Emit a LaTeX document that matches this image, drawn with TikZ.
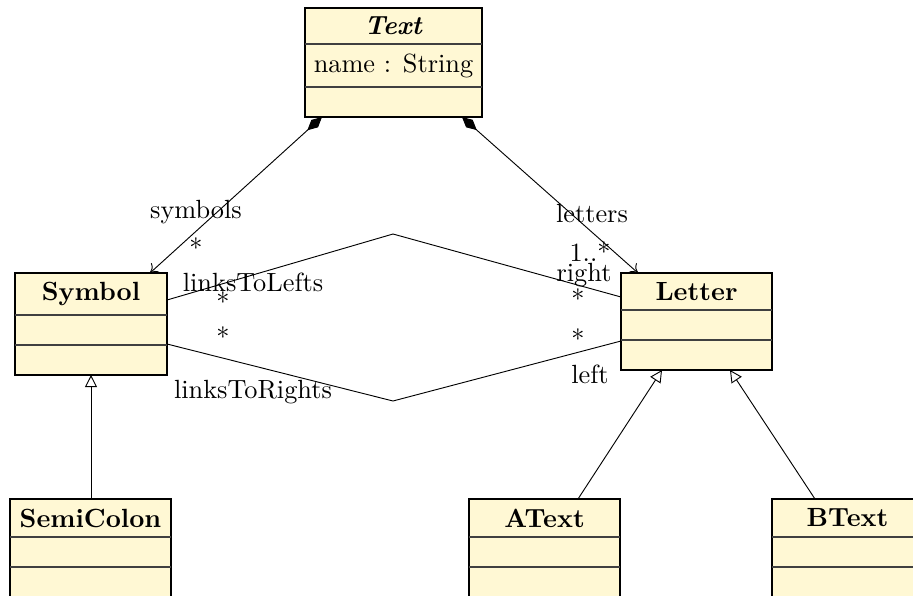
\documentclass[tikz,border=0pt]{standalone}
\usetikzlibrary{arrows.meta,calc}
\def\s{0.38}
\definecolor{clsfill}{RGB}{255,248,212}
\tikzset{
  umlbox/.style 2 args={draw, fill=clsfill, line width=0.4pt, inner sep=0pt, outer sep=0pt,
    anchor=north west, minimum width={#1*\s pt}, minimum height={#2*\s pt}},
  divline/.style={line width=0.4pt, draw=black!75},
  conn/.style={line width=0.35pt},
  lab/.style={inner sep=0pt},
  comp/.style={conn, {Diamond[length=7.5pt,width=3.8pt]}-{To[length=3pt,width=5pt]}},
  inh/.style={conn, -{Triangle[open,length=4.6pt,width=4.6pt,fill=white]}},
}
\begin{document}
\begin{tikzpicture}[x=\s pt, y=-\s pt]
\useasboundingbox (0,0) rectangle (913,595);

% classes
\node[umlbox={177}{109}] (text) at (305,8) {};
\draw[divline] ([yshift={-36*\s pt}]text.north west) -- ([yshift={-36*\s pt}]text.north east);
\draw[divline] ([yshift={-79*\s pt}]text.north west) -- ([yshift={-79*\s pt}]text.north east);
\node[lab] (textT) at (393.5,26) {\textbf{\textit{Text}}};
\node[lab] (textA) at (393.5,66) {name : String};

\node[umlbox={152}{102}] (sym) at (15,273) {};
\draw[divline] ([yshift={-42*\s pt}]sym.north west) -- ([yshift={-42*\s pt}]sym.north east);
\draw[divline] ([yshift={-72*\s pt}]sym.north west) -- ([yshift={-72*\s pt}]sym.north east);
\node[lab] (symT) at (91,294) {\textbf{Symbol}};

\node[umlbox={151}{97}] (let) at (621,273) {};
\draw[divline] ([yshift={-37*\s pt}]let.north west) -- ([yshift={-37*\s pt}]let.north east);
\draw[divline] ([yshift={-67*\s pt}]let.north west) -- ([yshift={-67*\s pt}]let.north east);
\node[lab] (letT) at (696.5,292) {\textbf{Letter}};

\node[umlbox={161}{98}] (semi) at (10,499) {};
\draw[divline] ([yshift={-38*\s pt}]semi.north west) -- ([yshift={-38*\s pt}]semi.north east);
\draw[divline] ([yshift={-68*\s pt}]semi.north west) -- ([yshift={-68*\s pt}]semi.north east);
\node[lab] (semiT) at (90.5,518) {\textbf{SemiColon}};

\node[umlbox={151}{98}] (at) at (469,499) {};
\draw[divline] ([yshift={-38*\s pt}]at.north west) -- ([yshift={-38*\s pt}]at.north east);
\draw[divline] ([yshift={-68*\s pt}]at.north west) -- ([yshift={-68*\s pt}]at.north east);
\node[lab] (atT) at (544.5,518) {\textbf{AText}};

\node[umlbox={151}{98}] (bt) at (772,499) {};
\draw[divline] ([yshift={-38*\s pt}]bt.north west) -- ([yshift={-38*\s pt}]bt.north east);
\draw[divline] ([yshift={-68*\s pt}]bt.north west) -- ([yshift={-68*\s pt}]bt.north east);
\node[lab] (btT) at (847.5,518) {\textbf{BText}};

% compositions
\draw[comp] ([xshift={17*\s pt}]text.south west) -- ([xshift={135*\s pt}]sym.north west);
\draw[comp] ([xshift={157*\s pt}]text.south west) -- ([xshift={17*\s pt}]let.north west);
\node[lab] (l1) at (196,212) {symbols};
\node[lab] (l2) at (196,248) {*};
\node[lab] (l3) at (592,214) {letters};
\node[lab] (l4) at (590,252) {1..*};

% associations
\coordinate (m1) at (393,234);
\coordinate (m2) at (393,401);
\draw[conn] ([yshift={-27*\s pt}]sym.north east) -- (m1) -- ([yshift={-24*\s pt}]let.north west);
\draw[conn] ([yshift={-71*\s pt}]sym.north east) -- (m2) -- ([yshift={-68*\s pt}]let.north west);
\node[lab] (a1) at (253,282) {linksToLefts};
\node[lab] (a2) at (223,302) {*};
\node[lab] (a3) at (223,337) {*};
\node[lab] (a4) at (253,392) {linksToRights};
\node[lab] (a5) at (584,275) {right};
\node[lab] (a6) at (578,299) {*};
\node[lab] (a7) at (578,339) {*};
\node[lab] (a8) at (590,374) {left};

% inheritance
\draw[inh] ([xshift={81*\s pt}]semi.north west) -- ([xshift={76*\s pt}]sym.south west);
\draw[inh] ([xshift={109*\s pt}]at.north west) -- ([xshift={41*\s pt}]let.south west);
\draw[inh] ([xshift={43*\s pt}]bt.north west) -- ([xshift={109*\s pt}]let.south west);
\end{tikzpicture}
\end{document}
